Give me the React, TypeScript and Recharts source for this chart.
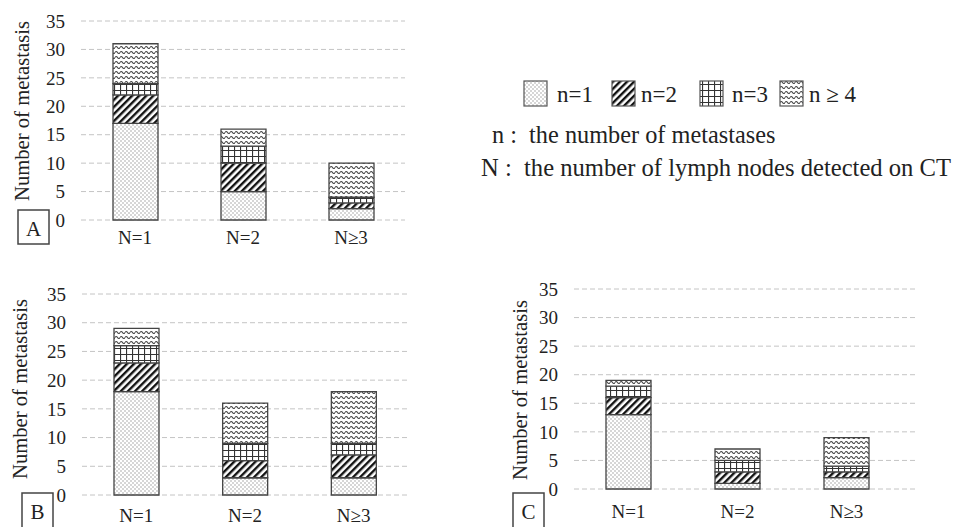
import { BarChart, Bar, XAxis, YAxis, CartesianGrid } from "recharts";

const FONT = "Liberation Serif, DejaVu Serif, serif";

const categories = ["N=1", "N=2", "N≥3"];
const yTicks = [0, 5, 10, 15, 20, 25, 30, 35];
const seriesKeys = ["n1", "n2", "n3", "n4"];
const legendLabels = ["n=1", "n=2", "n=3", "n ≥ 4"];

// panel A
const aN1 = [17, 5, 2];
const aN2 = [5, 5, 1];
const aN3 = [2, 3, 1];
const aN4 = [7, 3, 6];

// panel B
const bN1 = [18, 3, 3];
const bN2 = [5, 3, 4];
const bN3 = [3, 3, 2];
const bN4 = [3, 7, 9];

// panel C
const cN1 = [13, 1, 2];
const cN2 = [3, 2, 1];
const cN3 = [2, 2, 1];
const cN4 = [1, 2, 5];

const buildRows = (s1: number[], s2: number[], s3: number[], s4: number[]) =>
  categories.map((name, i) => ({ name, n1: s1[i], n2: s2[i], n3: s3[i], n4: s4[i] }));

const patternNames = ["dots", "hatch", "grid", "wave"];

const patternDefs = (id: string) => (
  <defs>
    <pattern id={`${id}-dots`} width={4} height={4} patternUnits="userSpaceOnUse">
      <rect width={4} height={4} fill="#fff" />
      <circle cx={1} cy={1} r={0.75} fill="#9a9a9a" />
      <circle cx={3} cy={3} r={0.75} fill="#9a9a9a" />
    </pattern>
    <pattern
      id={`${id}-hatch`}
      width={5}
      height={5}
      patternUnits="userSpaceOnUse"
      patternTransform="rotate(45)"
    >
      <rect width={5} height={5} fill="#fff" />
      <rect width={2.4} height={5} fill="#111" />
    </pattern>
    <pattern id={`${id}-grid`} width={6} height={6} patternUnits="userSpaceOnUse">
      <rect width={6} height={6} fill="#fff" />
      <path d="M0 0.5 H6 M0.5 0 V6" stroke="#333" strokeWidth={1.2} />
    </pattern>
    <pattern id={`${id}-wave`} width={5} height={5} patternUnits="userSpaceOnUse">
      <rect width={5} height={5} fill="#fff" />
      <path d="M0 2.5 Q1.25 0.5 2.5 2.5 T5 2.5" fill="none" stroke="#444" strokeWidth={1.1} />
    </pattern>
  </defs>
);

interface PanelProps {
  id: string;
  data: any[];
  left: number;
  top: number;
  width: number;
  height: number;
  margin: { top: number; right: number; bottom: number; left: number };
  yWidth: number;
  xHeight: number;
  xTickMargin: number;
  xPadRight?: number;
}

const Panel = ({
  id,
  data,
  left,
  top,
  width,
  height,
  margin,
  yWidth,
  xHeight,
  xTickMargin,
  xPadRight = 0,
}: PanelProps) => (
  <div style={{ position: "absolute", left, top, width, height }}>
    <BarChart width={width} height={height} data={data} margin={margin}>
      {patternDefs(id)}
      <CartesianGrid vertical={false} stroke="#c4c4c4" strokeDasharray="5 3" />
      <XAxis
        dataKey="name"
        height={xHeight}
        axisLine={false}
        tickLine={false}
        tickMargin={xTickMargin}
        padding={{ left: 0, right: xPadRight }}
        tick={{ fontSize: 19, fill: "#222", fontFamily: FONT }}
      />
      <YAxis
        width={yWidth}
        domain={[0, 35]}
        ticks={yTicks}
        axisLine={false}
        tickLine={false}
        tickMargin={10}
        tick={{ fontSize: 19, fill: "#222", fontFamily: FONT }}
      />
      {seriesKeys.map((k, i) => (
        <Bar
          key={k}
          dataKey={k}
          stackId="s"
          barSize={45}
          fill={`url(#${id}-${patternNames[i]})`}
          stroke="#444"
          strokeWidth={1.3}
          isAnimationActive={false}
        />
      ))}
    </BarChart>
  </div>
);

const legendX = [524, 612, 700, 780];
const legendTextX = [557, 641, 732, 809];

export default function App() {
  return (
    <div
      style={{
        position: "absolute",
        left: 0,
        top: 0,
        width: 959,
        height: 527,
        background: "#fff",
        overflow: "hidden",
        fontFamily: FONT,
      }}
    >
      <Panel
        id="pa"
        data={buildRows(aN1, aN2, aN3, aN4)}
        left={0}
        top={0}
        width={420}
        height={260}
        margin={{ top: 21, right: 15, bottom: 0, left: 0 }}
        yWidth={81}
        xHeight={40}
        xTickMargin={5}
      />
      <Panel
        id="pb"
        data={buildRows(bN1, bN2, bN3, bN4)}
        left={0}
        top={270}
        width={420}
        height={257}
        margin={{ top: 24, right: 12, bottom: 0, left: 0 }}
        yWidth={82}
        xHeight={32}
        xTickMargin={8}
      />
      <Panel
        id="pc"
        data={buildRows(cN1, cN2, cN3, cN4)}
        left={490}
        top={270}
        width={469}
        height={257}
        margin={{ top: 19, right: 42, bottom: 0, left: 0 }}
        yWidth={84}
        xHeight={38}
        xTickMargin={10}
        xPadRight={16}
      />

      <svg
        width={959}
        height={527}
        style={{ position: "absolute", left: 0, top: 0, pointerEvents: "none" }}
      >
        {patternDefs("lg")}
        {[
          { x: 22, y: 111 },
          { x: 20, y: 389 },
          { x: 520, y: 390 },
        ].map((p, i) => (
          <text
            key={i}
            x={p.x}
            y={p.y}
            transform={`rotate(-90 ${p.x} ${p.y})`}
            textAnchor="middle"
            dominantBaseline="central"
            fontSize={21}
            textLength={180}
            lengthAdjust="spacingAndGlyphs"
            fill="#222"
            fontFamily={FONT}
          >
            Number of metastasis
          </text>
        ))}
        {[
          { x: 18, y: 210, h: 34, t: "A" },
          { x: 22, y: 493, h: 40, t: "B" },
          { x: 513, y: 493, h: 40, t: "C" },
        ].map((b) => (
          <g key={b.t}>
            <rect x={b.x} y={b.y} width={31} height={b.h} fill="#fff" stroke="#444" strokeWidth={1.5} />
            <text
              x={b.x + 15.5}
              y={b.y + 19}
              textAnchor="middle"
              dominantBaseline="central"
              fontSize={21}
              fill="#222"
              fontFamily={FONT}
            >
              {b.t}
            </text>
          </g>
        ))}
        {legendLabels.map((lab, i) => (
          <g key={lab}>
            <rect
              x={legendX[i]}
              y={81}
              width={23}
              height={25}
              fill={`url(#lg-${patternNames[i]})`}
              stroke="#555"
              strokeWidth={1.2}
            />
            <text x={legendTextX[i]} y={102} fontSize={23} fill="#222" fontFamily={FONT}>
              {lab}
            </text>
          </g>
        ))}
        <text x={492} y={143} fontSize={24.3} fill="#222" fontFamily={FONT} style={{ whiteSpace: "pre" }}>
          {"n :  the number of metastases"}
        </text>
        <text x={481} y={176} fontSize={24.6} fill="#222" fontFamily={FONT} style={{ whiteSpace: "pre" }}>
          {"N :  the number of lymph nodes detected on CT"}
        </text>
      </svg>
    </div>
  );
}
